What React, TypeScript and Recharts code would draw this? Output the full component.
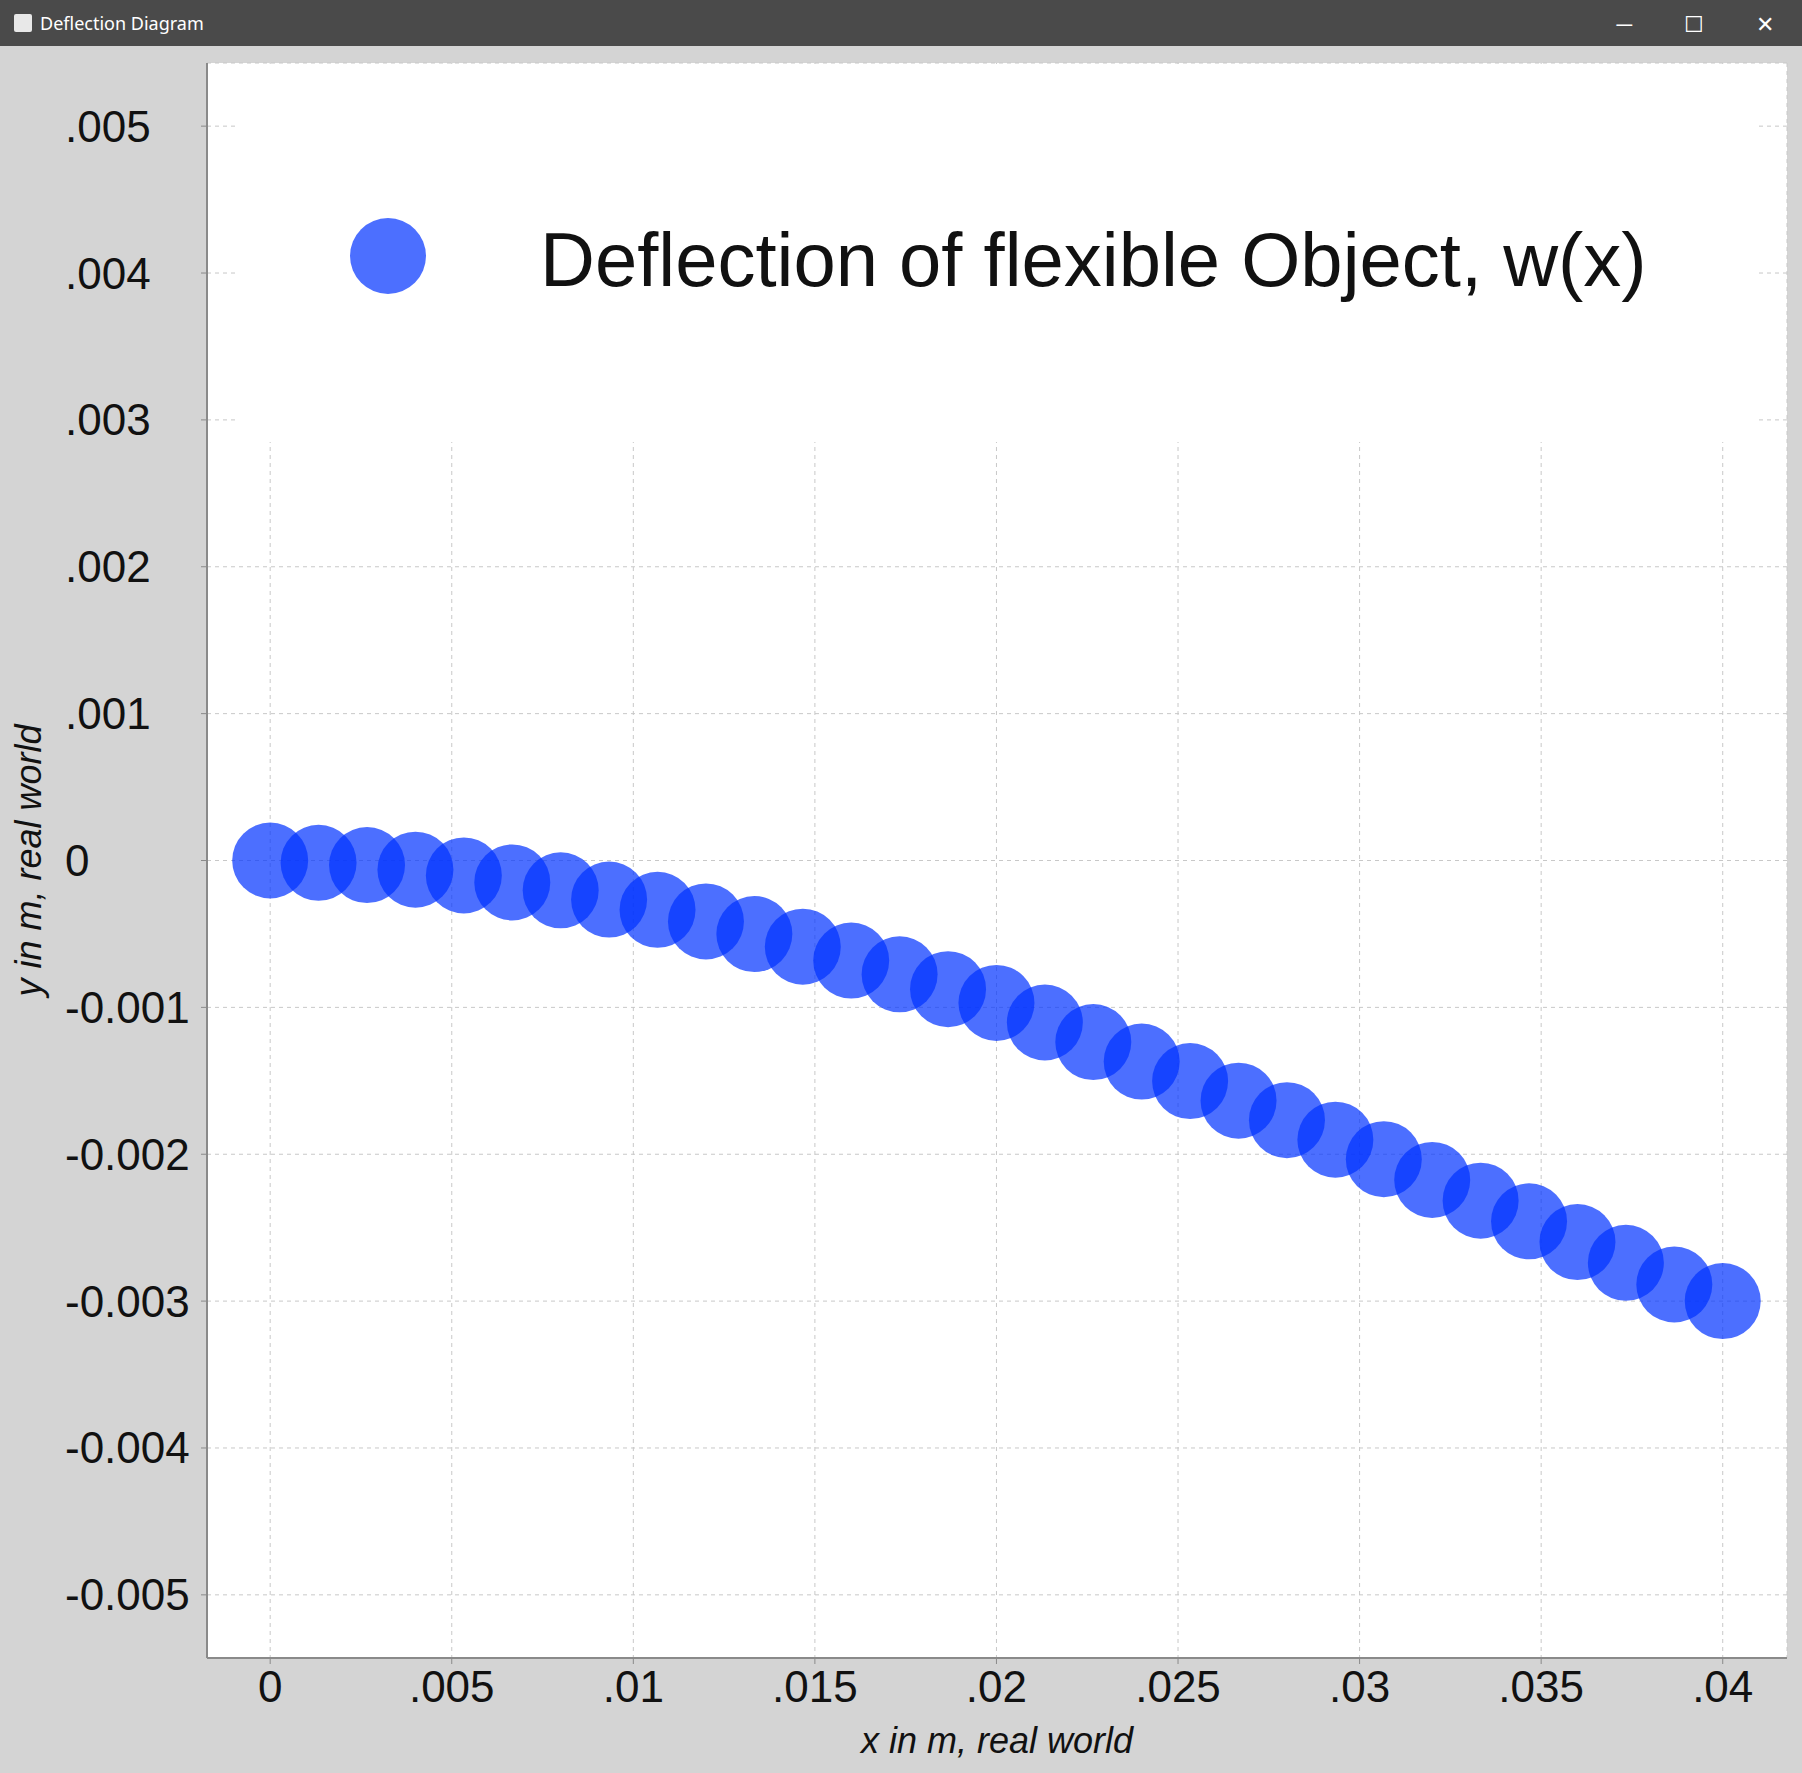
import React from 'react';
import {
  ScatterChart,
  Scatter,
  XAxis,
  YAxis,
  CartesianGrid,
} from 'recharts';

// x positions along the object (m)
const xValues = [
  0, 0.001333, 0.002667, 0.004, 0.005333, 0.006667, 0.008, 0.009333, 0.010667, 0.012,
  0.013333, 0.014667, 0.016, 0.017333, 0.018667, 0.02, 0.021333, 0.022667, 0.024, 0.025333,
  0.026667, 0.028, 0.029333, 0.030667, 0.032, 0.033333, 0.034667, 0.036, 0.037333, 0.038667, 0.04,
];
// deflection w(x) (m)
const wValues = [
  0, -0.0000156, -0.0000313, -0.0000626, -0.000102, -0.000149, -0.000203, -0.000266, -0.000336, -0.000415,
  -0.000501, -0.000587, -0.000681, -0.000775, -0.000876, -0.00097, -0.001103, -0.001236, -0.001369, -0.001502,
  -0.001635, -0.001768, -0.001901, -0.002034, -0.002175, -0.002316, -0.002457, -0.002598, -0.002739, -0.002887, -0.003,
];

const xTicks = [0, 0.005, 0.01, 0.015, 0.02, 0.025, 0.03, 0.035, 0.04];
const xTickLabels = ['0', '.005', '.01', '.015', '.02', '.025', '.03', '.035', '.04'];
const yTicks = [0.005, 0.004, 0.003, 0.002, 0.001, 0, -0.001, -0.002, -0.003, -0.004, -0.005];
const yTickLabels = ['.005', '.004', '.003', '.002', '.001', '0', '-0.001', '-0.002', '-0.003', '-0.004', '-0.005'];

const seriesName = 'Deflection of flexible Object, w(x)';
const data = xValues.map((x, i) => ({ x, y: wValues[i] }));

const FONT = '"Liberation Sans", Arial, sans-serif';
const DOT = '#0032ff';

const YTick = (props: any) => {
  const idx = yTicks.findIndex((t) => Math.abs(t - props.payload.value) < 1e-9);
  return (
    <text x={65} y={props.y} dominantBaseline="central" textAnchor="start" fontSize={44} fontFamily={FONT} fill="#111">
      {idx >= 0 ? yTickLabels[idx] : ''}
    </text>
  );
};

const XTick = (props: any) => {
  const idx = xTicks.findIndex((t) => Math.abs(t - props.payload.value) < 1e-9);
  return (
    <text x={props.x} y={props.y + 36} textAnchor="middle" fontSize={44} fontFamily={FONT} fill="#111">
      {idx >= 0 ? xTickLabels[idx] : ''}
    </text>
  );
};

const Dot = (props: any) => (
  <circle cx={props.cx} cy={props.cy} r={38} fill={DOT} fillOpacity={0.7} />
);

export default function App() {
  document.body.style.margin = '0';
  return (
    <div style={{ position: 'absolute', left: 0, top: 0, width: 1802, height: 1773, background: '#d4d4d4', overflow: 'hidden', fontFamily: FONT }}>
      <div style={{ height: 46, background: '#4a4a4a', color: '#fff', display: 'flex', alignItems: 'center', fontFamily: '"Noto Sans", sans-serif', fontSize: 18 }}>
        <div style={{ width: 18, height: 18, background: '#e8e8e8', marginLeft: 14, marginRight: 8, borderRadius: 2 }} />
        <span>Deflection Diagram</span>
        <span style={{ marginLeft: 'auto', display: 'flex', gap: 52, marginRight: 28, fontSize: 22 }}>
          <span>─</span><span>☐</span><span>✕</span>
        </span>
      </div>
      <ScatterChart width={1802} height={1727} margin={{ top: 17, right: 15, left: 0, bottom: 0 }}>
        <CartesianGrid fill="#fff" stroke="#c8c8c8" strokeDasharray="4 4" />
        <XAxis
          type="number"
          dataKey="x"
          domain={[-0.00174, 0.04177]}
          ticks={xTicks}
          tick={<XTick />}
          height={115}
          axisLine={{ stroke: '#8a8a8a', strokeWidth: 2 }}
          tickLine={{ stroke: '#8a8a8a' }}
          tickSize={6}
          allowDataOverflow
          label={{ value: 'x in m, real world', position: 'insideBottom', offset: 20, fontSize: 36, fontStyle: 'italic', fill: '#111', fontFamily: FONT }}
        />
        <YAxis
          type="number"
          dataKey="y"
          domain={[-0.00543, 0.00543]}
          ticks={yTicks}
          tick={<YTick />}
          width={207}
          axisLine={{ stroke: '#8a8a8a', strokeWidth: 2 }}
          tickLine={{ stroke: '#8a8a8a' }}
          tickSize={6}
          allowDataOverflow
          label={{ value: 'y in m, real world', angle: -90, position: 'insideLeft', offset: 28, fontSize: 36, fontStyle: 'italic', fill: '#111', fontFamily: FONT, style: { textAnchor: 'middle' } }}
        />
        <Scatter name={seriesName} data={data} shape={<Dot />} isAnimationActive={false} />
      </ScatterChart>
      <div style={{ position: 'absolute', left: 236, top: 64, width: 1522, height: 378, background: '#fff' }}>
        <div style={{ position: 'absolute', left: 114, top: 154, width: 76, height: 76, borderRadius: '50%', background: DOT, opacity: 0.7 }} />
        <div style={{ position: 'absolute', left: 304, top: 146, fontSize: 76, fontFamily: FONT, color: '#111', whiteSpace: 'nowrap', lineHeight: '100px' }}>
          {seriesName}
        </div>
      </div>
    </div>
  );
}
